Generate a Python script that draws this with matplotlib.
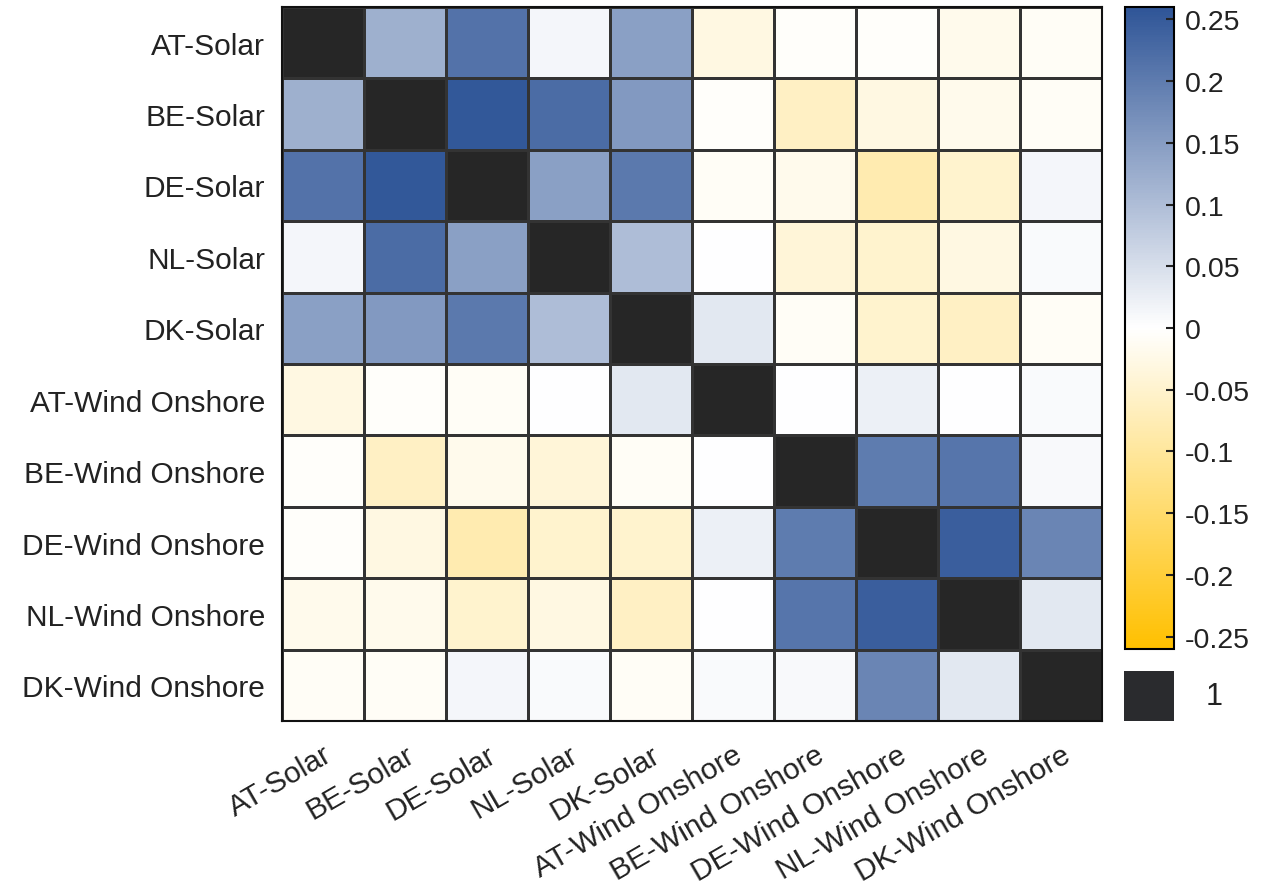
import numpy as np
import matplotlib.pyplot as plt
from matplotlib.colors import LinearSegmentedColormap

plt.rcParams['font.family'] = ['Liberation Sans', 'DejaVu Sans']

# Noms des séries
labels = ["AT-Solar", "BE-Solar", "DE-Solar", "NL-Solar", "DK-Solar",
          "AT-Wind Onshore", "BE-Wind Onshore", "DE-Wind Onshore",
          "NL-Wind Onshore", "DK-Wind Onshore"]

# Matrice de corrélation (diagonale = 1)
corr = [
    [1.00, 0.12, 0.215, 0.013, 0.145, -0.030, -0.005, -0.005, -0.020, -0.010],
    [0.12, 1.00, 0.255, 0.225, 0.155, -0.005, -0.060, -0.030, -0.020, -0.010],
    [0.215, 0.255, 1.00, 0.145, 0.205, -0.010, -0.020, -0.080, -0.050, 0.013],
    [0.013, 0.225, 0.145, 1.00, 0.10, 0.000, -0.040, -0.050, -0.030, 0.008],
    [0.145, 0.155, 0.205, 0.10, 1.00, 0.035, -0.010, -0.050, -0.060, -0.010],
    [-0.030, -0.005, -0.010, 0.000, 0.035, 1.00, 0.000, 0.024, 0.000, 0.007],
    [-0.005, -0.060, -0.020, -0.040, -0.010, 0.000, 1.00, 0.20, 0.21, 0.010],
    [-0.005, -0.030, -0.080, -0.050, -0.050, 0.024, 0.20, 1.00, 0.245, 0.185],
    [-0.020, -0.020, -0.050, -0.030, -0.060, 0.000, 0.21, 0.245, 1.00, 0.035],
    [-0.010, -0.010, 0.013, 0.008, -0.010, 0.007, 0.010, 0.185, 0.035, 1.00],
]
cbar_ticks = [-0.25, -0.2, -0.15, -0.1, -0.05, 0, 0.05, 0.1, 0.15, 0.2, 0.25]

M = np.array(corr, dtype=float)
M_plot = M.copy()
np.fill_diagonal(M_plot, np.nan)
M_plot = np.ma.masked_invalid(M_plot)

cmap = LinearSegmentedColormap.from_list("gold_blue", ["#FFC000", "#FFFFFF", "#2F5597"])
cmap.set_bad("#262626")

fig = plt.figure(figsize=(12.73, 8.87), dpi=100)
ax = fig.add_axes([0.2215, 0.186, 0.6442, 0.805])
n = len(labels)
mesh = ax.pcolormesh(np.arange(n + 1), np.arange(n + 1), M_plot, cmap=cmap,
                     vmin=-0.26, vmax=0.26, edgecolors="#333333", linewidth=0.9)
ax.set_xlim(0, n)
ax.set_ylim(n, 0)
ax.set_xticks(np.arange(n) + 0.5)
ax.set_yticks(np.arange(n) + 0.5)
ax.set_xticklabels(labels, rotation=30, ha="right", rotation_mode="anchor", fontsize=21.5, color="#222222")
ax.set_yticklabels(labels, fontsize=21.5, color="#222222")
ax.tick_params(axis="y", length=0, pad=12)
ax.tick_params(axis="x", length=0, pad=14)
for s in ax.spines.values():
    s.set_linewidth(1.5)
    s.set_color("#111111")

# Barre de couleur
cax = fig.add_axes([0.8837, 0.2672, 0.0385, 0.7238])
cb = fig.colorbar(mesh, cax=cax, ticks=cbar_ticks)
cb.ax.set_yticklabels(["%g" % t for t in cbar_ticks])
cb.ax.tick_params(direction="in", length=6, width=1.5, labelsize=20.5, pad=8, colors="#222222")
cb.outline.set_linewidth(1.5)

# Case noire pour la diagonale
bax = fig.add_axes([0.883, 0.186, 0.0393, 0.0564])
bax.set_facecolor("#2a2b2e")
bax.set_xticks([])
bax.set_yticks([])
for s in bax.spines.values():
    s.set_visible(False)
bax.text(1.8, 0.5, "1", transform=bax.transAxes, ha="center", va="center", fontsize=22, color="#222222")

fig.savefig("out.png", dpi=100)
